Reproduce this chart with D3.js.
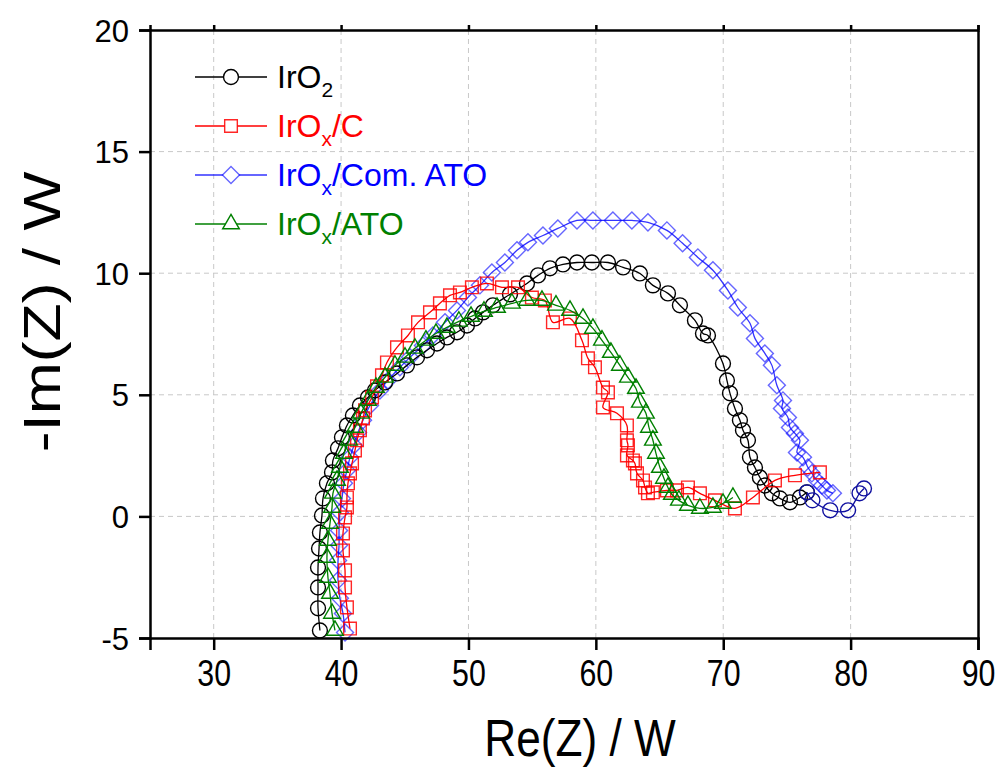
<!DOCTYPE html>
<html>
<head>
<meta charset="utf-8">
<script src="https://cdn.jsdelivr.net/npm/d3@7"></script>
<style>
  body { margin: 0; background: #fff; }
  svg { display: block; font-family: "Liberation Sans", Arial, sans-serif; }
</style>
</head>
<body>
<svg id="chart" width="1003" height="772"></svg>
<script>
// Nyquist data, [Re(Z), -Im(Z)]
var iro2 = [[38.34,-4.69],[38.19,-3.78],[38.19,-2.92],[38.19,-2.10],[38.27,-1.32],[38.34,-0.66],[38.5,0.04],[38.58,0.74],
  [38.89,1.36],[39.29,1.81],[39.36,2.30],[39.76,2.80],[40.07,3.25],[40.46,3.74],[40.93,4.15],[41.48,4.56],[42.11,4.89],
  [42.66,5.18],[43.45,5.51],[44.39,5.88],[45.17,6.21],[45.96,6.54],[46.74,6.83],[47.53,7.11],[48.31,7.36],[49.10,7.57],
  [49.88,7.85],[50.51,8.14],[51.14,8.39],[51.92,8.68],[53.26,9.13],[54.59,9.58],[55.46,9.91],[56.40,10.2],[57.42,10.36],
  [58.52,10.44],[59.69,10.44],[60.95,10.44],[62.14,10.24],[63.46,9.99],[64.48,9.5],[65.66,9.17],[66.60,8.68],[67.78,8.06],
  [68.41,7.52],[68.80,7.44],[69.98,6.29],[70.29,5.59],[70.53,5.06],[70.92,4.44],[71.31,3.95],[71.55,3.54],[71.94,3.13],
  [72.10,2.43],[72.49,2.01],[72.88,1.60],[73.27,1.27],[73.82,0.95],[74.45,0.74],[75.24,0.58],[76.02,0.78],[76.57,0.99]];
var iro2Tail = [[76.57,0.99],[77.0,0.66],[78.4,0.25],[79.8,0.25],[80.7,0.95],[81.05,1.15]];
var iroxC = [[40.70,-4.61],[40.46,-3.74],[40.31,-2.92],[40.31,-2.22],[40.15,-1.40],[40.15,-0.70],[40.31,-0.04],[40.46,0.37],
  [40.46,0.78],[40.54,1.36],[40.70,1.77],[40.86,2.18],[41.09,2.71],[41.25,3.13],[41.48,3.54],[41.72,4.03],[41.88,4.36],
  [42.43,4.89],[42.82,5.35],[43.21,5.80],[43.60,6.33],[44.39,6.95],[45.25,7.44],[46.04,7.98],[46.98,8.39],[47.76,8.76],
  [48.55,9.09],[49.33,9.21],[50.27,9.42],[51.45,9.58],[52.63,9.42],[53.89,9.42],[54.98,9.0],[56.00,8.88],[56.63,7.98],
  [57.97,8.14],[58.91,7.24],[59.38,6.50],[59.93,6.13],[60.56,5.30],[60.95,5.10],[60.56,4.48],[61.66,4.24],[62.44,3.74],
  [62.44,3.13],[62.52,2.92],[62.44,2.51],[62.91,2.30],[63.07,2.18],[63.23,1.77],[63.70,1.48],[63.86,1.19],[64.09,0.95],
  [64.48,0.99],[65.58,1.07],[66.37,1.07],[67.23,1.19],[68.17,0.95],[69.35,0.66],[70.92,0.33],[72.33,0.78],[74.06,1.48],
  [75.63,1.69],[77.59,1.81]];
var iroxCom = [[40.31,-4.77],[40.15,-3.99],[39.91,-3.37],[39.76,-2.63],[39.76,-1.81],[39.84,-1.19],[39.84,-0.58],[39.91,0.16],
  [40.07,0.74],[40.23,1.36],[40.46,1.89],[40.70,2.43],[41.01,2.92],[41.33,3.45],[41.72,3.95],[42.27,4.56],[43.05,5.18],
  [43.68,5.59],[44.62,6.13],[45.41,6.54],[46.43,7.03],[47.21,7.44],[48.16,7.98],[49.10,8.47],[49.96,9.0],[50.90,9.50],
  [51.84,10.03],[52.86,10.44],[53.81,10.94],[54.67,11.27],[55.85,11.55],[57.02,11.84],[58.52,12.17],[59.77,12.17],
  [61.34,12.17],[62.83,12.17],[64.09,12.09],[65.58,11.76],[66.81,11.23],[68.01,10.65],[69.19,10.12],[70.37,9.29],
  [71.15,8.59],[72.10,7.94],[72.49,7.32],[73.27,6.70],[73.82,6.21],[74.21,5.39],[74.69,4.77],[74.61,4.44],[75.08,4.07],
  [75.24,3.66],[75.63,3.41],[76.02,3.13],[75.79,2.63],[76.26,2.43],[76.65,2.01],[76.96,1.77],[77.35,1.48],[77.75,1.27],
  [78.14,1.07],[78.61,0.95]];
var iroxAto = [[39.52,-4.69],[39.29,-3.99],[39.13,-3.17],[38.97,-2.51],[38.89,-1.69],[38.97,-0.99],[39.13,-0.29],[39.29,0.37],
  [39.36,0.95],[39.68,1.48],[39.91,2.01],[40.23,2.59],[40.62,3.13],[41.09,3.66],[41.56,4.24],[42.11,4.77],[42.74,5.30],
  [43.45,5.72],[44.23,6.21],[45.02,6.54],[45.80,6.91],[46.66,7.24],[47.45,7.52],[48.31,7.77],[49.25,8.02],[50.20,8.22],
  [51.22,8.43],[52.24,8.59],[53.41,8.76],[54.59,8.88],[55.77,8.88],[56.87,8.68],[57.97,8.47],[58.99,8.14],[59.77,7.73],
  [60.48,7.24],[61.18,6.74],[61.89,6.21],[62.52,5.72],[63.15,5.26],[63.46,4.69],[63.93,4.24],[64.17,3.66],[64.48,3.13],
  [64.72,2.59],[65.03,2.01],[65.35,1.56],[65.66,1.19],[65.97,0.90],[66.52,0.66],[67.23,0.45],[68.17,0.33],[69.19,0.37],
  [69.98,0.53],[70.76,0.78]];

var xTicks = [30, 40, 50, 60, 70, 80, 90];
var yTicks = [-5, 0, 5, 10, 15, 20];

var series = [
  {name: "IrO", sub: "2", rest: "", data: iro2, color: "#000000", mark: "circle", op: 1},
  {name: "IrO", sub: "x", rest: "/C", data: iroxC, color: "#ff0000", mark: "square", op: 0.85},
  {name: "IrO", sub: "x", rest: "/Com. ATO", data: iroxCom, color: "#0000ff", mark: "diamond", op: 0.6},
  {name: "IrO", sub: "x", rest: "/ATO", data: iroxAto, color: "#008000", mark: "triangle", op: 1}
];

var margin = {top: 30, right: 25, bottom: 134, left: 150};
var width = 1003 - margin.left - margin.right,
    height = 772 - margin.top - margin.bottom;

var svg = d3.select("#chart");
var g = svg.append("g").attr("transform", "translate(" + margin.left + "," + margin.top + ")");

var x = d3.scaleLinear().domain([25, 90]).range([0, width]);
var y = d3.scaleLinear().domain([-5, 20]).range([height, 0]);

// grid
g.append("g").selectAll("line").data(xTicks.filter(d => d < 90)).join("line")
  .attr("x1", d => x(d)).attr("x2", d => x(d)).attr("y1", 0).attr("y2", height)
  .attr("stroke", "#c8c8c8").attr("stroke-dasharray", "5,4");
g.append("g").selectAll("line").data(yTicks.filter(d => d > -5 && d < 20)).join("line")
  .attr("y1", d => y(d)).attr("y2", d => y(d)).attr("x1", 0).attr("x2", width)
  .attr("stroke", "#c8c8c8").attr("stroke-dasharray", "5,4");

var symbols = {
  circle: d3.symbol().type(d3.symbolCircle).size(175),
  square: d3.symbol().type(d3.symbolSquare).size(160),
  diamond: d3.symbol().type(d3.symbolSquare).size(145),
  triangle: d3.symbol().type(d3.symbolTriangle).size(120)
};

var line = d3.line().x(d => x(d[0])).y(d => y(d[1])).curve(d3.curveCatmullRom.alpha(0.5));

var plot = g.append("g");

function drawSeries(data, color, mark, op) {
  var sg = plot.append("g");
  sg.append("path").datum(data)
    .attr("d", line).attr("fill", "none")
    .attr("stroke", color).attr("stroke-width", 1.3).attr("stroke-opacity", Math.min(1, op + 0.2));
  sg.selectAll("path.m").data(data).join("path")
    .attr("class", "m")
    .attr("d", symbols[mark])
    .attr("transform", d => "translate(" + x(d[0]) + "," + y(d[1]) + ")" + (mark === "diamond" ? " rotate(45)" : ""))
    .attr("fill", "none").attr("stroke", color).attr("stroke-width", 1.4).attr("stroke-opacity", op);
}

[series[2], series[0], series[1], series[3]].forEach(s => drawSeries(s.data, s.color, s.mark, s.op));
drawSeries(iro2Tail, "#1010a0", "circle", 1);

// axes
var xAxis = g.append("g").attr("transform", "translate(0," + height + ")")
  .call(d3.axisBottom(x).tickValues(xTicks).tickSize(12).tickPadding(10).tickFormat(d => String(d)));
var yAxis = g.append("g").call(d3.axisLeft(y).tickValues(yTicks).tickSize(11).tickPadding(10).tickFormat(d => String(d)));
g.append("g").call(d3.axisTop(x).tickValues(xTicks).tickSize(5).tickFormat(""));
g.append("g").attr("transform", "translate(" + width + ",0)").call(d3.axisRight(y).tickValues(yTicks).tickSize(0).tickFormat(""));

g.selectAll(".domain").attr("stroke", "#000").attr("stroke-width", 2.5);
g.selectAll(".tick line").attr("stroke", "#000").attr("stroke-width", 2.5);
xAxis.selectAll("text").attr("font-size", 37).attr("fill", "#000")
  .attr("font-family", "'Liberation Sans', Arial, sans-serif")
  .attr("transform", "scale(0.82,1)");
yAxis.selectAll("text").attr("font-size", 31).attr("fill", "#000")
  .attr("font-family", "'Liberation Sans', Arial, sans-serif")
  .attr("dy", "0.36em");

// axis titles
svg.append("text")
  .attr("transform", "translate(580,756) scale(0.85,1)")
  .attr("text-anchor", "middle").attr("font-size", 52).attr("fill", "#000")
  .text("Re(Z) / W");
svg.append("text")
  .attr("transform", "translate(60,312) rotate(-90) scale(1.2,1)")
  .attr("text-anchor", "middle").attr("font-size", 52).attr("fill", "#000")
  .text("-Im(Z) / W");

// legend
var legend = svg.append("g");
series.forEach(function(s, i) {
  var cy = 77 + i * 49;
  var lg = legend.append("g");
  lg.append("line").attr("x1", 195).attr("x2", 267).attr("y1", cy).attr("y2", cy)
    .attr("stroke", s.color).attr("stroke-width", 1.5).attr("stroke-opacity", Math.min(1, s.op + 0.2));
  lg.append("path").attr("d", symbols[s.mark])
    .attr("transform", "translate(231," + cy + ")" + (s.mark === "diamond" ? " rotate(45)" : ""))
    .attr("fill", "#fff").attr("stroke", s.color).attr("stroke-width", 1.4).attr("stroke-opacity", s.op);
  var t = lg.append("text").attr("x", 277).attr("y", cy + 11)
    .attr("font-size", 32).attr("fill", s.color);
  t.append("tspan").text(s.name);
  t.append("tspan").attr("font-size", 21).attr("dy", 9).text(s.sub);
  t.append("tspan").attr("dy", -9).text(s.rest);
});
</script>
</body>
</html>
